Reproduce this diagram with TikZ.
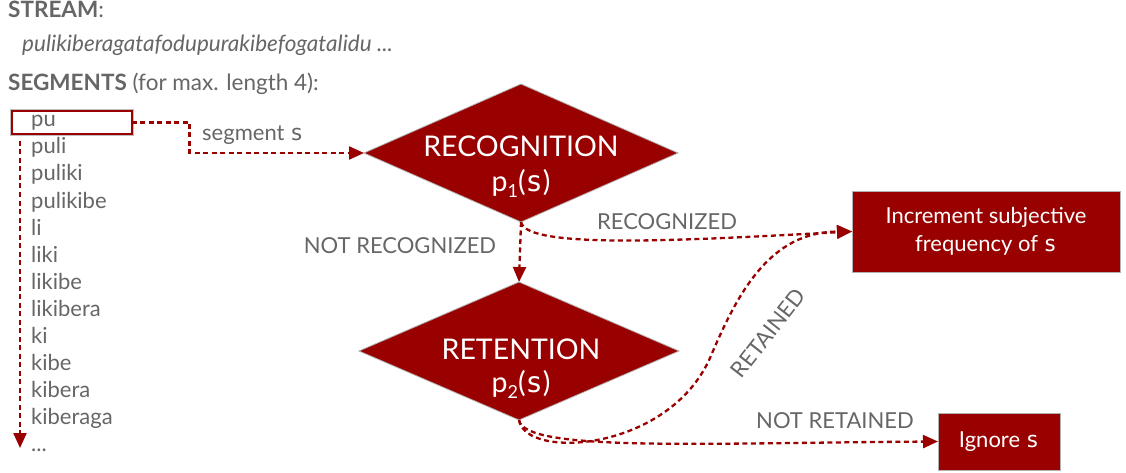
\documentclass[tikz,border=0pt]{standalone}
\usepackage{fontspec}
\setmainfont{Lato}
\newfontfamily\sfnt{DejaVu Sans Mono}
\usetikzlibrary{arrows.meta,shapes.geometric}
\definecolor{dred}{HTML}{990000}
\definecolor{tgray}{HTML}{666666}
\newcommand{\sv}{{\sfnt s}}
\tikzset{
  flow/.style={draw=dred, line width=2.3pt, dash pattern=on 5pt off 3.5pt,
    -{Triangle[length=15pt,width=13pt]}},
  lbl/.style={text=tgray, font=\fontsize{22}{26}\selectfont, inner sep=0pt},
  hdr/.style={text=tgray, font=\fontsize{22.5}{26}\selectfont, inner sep=0pt, anchor=base west},
  segitem/.style={text=tgray, font=\fontsize{22}{26}\selectfont, inner sep=0pt, anchor=base west},
  redbox/.style={rectangle, fill=dred, draw=gray!60, line width=0.8pt, text=white,
    font=\fontsize{22}{28}\selectfont, align=center, inner sep=0pt, outer sep=0pt},
  decision/.style={diamond, fill=dred, draw=gray!60, line width=0.8pt, inner sep=0pt, outer sep=0pt},
  dtext/.style={text=white, font=\fontsize{28.5}{32}\selectfont, inner sep=0pt, anchor=base},
}
\begin{document}
\begin{tikzpicture}[x=1pt,y=-1pt]
\useasboundingbox (0,0) rectangle (1126,473);

% header
\node[hdr] (hstream) at (8,18) {\textbf{STREAM}:};
\node[hdr, font=\fontsize{22.5}{26}\selectfont\itshape] (hstr) at (22,52) {pulikiberagatafodupurakibefogatalidu ...};
\node[hdr] (hseg) at (8,91) {\textbf{SEGMENTS} (for max. length 4):};

% segment list
\node[draw=dred, line width=2pt, minimum width=120pt, minimum height=23pt, inner sep=0pt, outer sep=0pt] (pubox) at (71.5,122.5) {};
\draw[gray!50, line width=0.6pt] ([shift={(-1.5pt,-1.5pt)}]pubox.south west) rectangle ([shift={(1.5pt,1.5pt)}]pubox.north east);
\foreach \w [count=\i from 0] in {pu,puli,puliki,pulikibe,li,liki,likibe,likibera,ki,kibe,kibera,kiberaga}{
  \node[segitem] (s\i) at (31,127+27*\i) {\w};
}
\node[segitem] (s12) at (31,451) {...};
\coordinate (lstart) at (20,141);
\coordinate (lend) at (20,448);
\draw[flow] (lstart) -- (lend);

% decisions
\node[decision, minimum width=314pt, minimum height=138pt] (rec) at (521,153) {};
\node[dtext] (rect) at (521,157) {RECOGNITION};
\node[dtext] (recp) at (521,191) {p\raisebox{-6pt}{\fontsize{18}{18}\selectfont 1}(\sv)};

\node[decision, minimum width=320pt, minimum height=138pt] (ret) at (519,351) {};
\node[dtext] (rett) at (521,359) {RETENTION};
\node[dtext] (retp) at (521,392) {p\raisebox{-6pt}{\fontsize{18}{18}\selectfont 2}(\sv)};

% result boxes
\node[redbox, minimum width=268pt, minimum height=81pt] (inc) at (986,231.5) {Increment subjective\\frequency of \sv};
\node[redbox, minimum width=122pt, minimum height=57pt] (ign) at (999,441.5) {Ignore \sv};

% connectors
\draw[flow] (pubox.east) -- ++(58,0) |- (rec.west);
\node[lbl, anchor=west] (lseg) at (202,135) {segment \sv};

\draw[flow] (rec.south) -- (ret.north);
\node[lbl] (lnrec) at (400,246) {NOT RECOGNIZED};

\draw[flow] (rec.south) .. controls (526,250) and (690,240) .. (inc.west);
\node[lbl] (lrec) at (667,222) {RECOGNIZED};

\coordinate (rbend) at (710,358);
\draw[flow] (ret.south) .. controls (525,460) and (668,452) .. (rbend)
  .. controls (738,292) and (770,232) .. (inc.west);
\node[lbl, rotate=52] (lretd) at (768,333) {RETAINED};

\draw[flow] (ret.south) .. controls (524,452) and (700,443) .. (ign.west);
\node[lbl] (lnret) at (835,421) {NOT RETAINED};
\end{tikzpicture}
\end{document}
